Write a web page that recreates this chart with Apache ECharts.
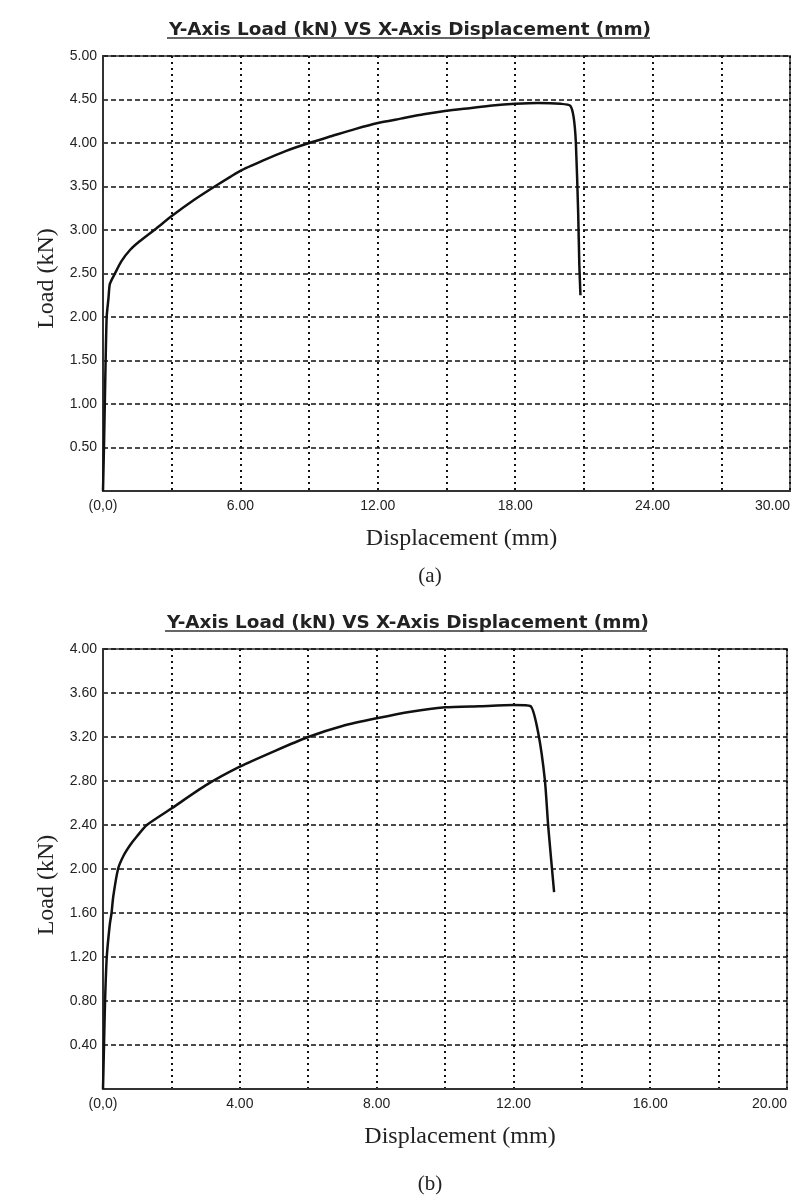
<!DOCTYPE html>
<html lang="en">

<head>
    <meta charset="UTF-8">
    <title>Load vs Displacement</title>
    <script src="https://cdn.jsdelivr.net/npm/echarts@6/dist/echarts.min.js"></script>
    <style>
        html, body { margin: 0; padding: 0; background: #fff; }
    </style>
</head>

<body>
    <div id="chart" style="width: 801px; height: 1198px;"></div>

    <script>
        // curve (a): displacement (mm) / load (kN)
        var dispA = [0, 0.05, 0.1, 0.16, 0.24, 0.3, 0.52, 0.8, 1.18, 1.6, 2.34, 3.0, 4.0, 5.0, 6.0, 7.0, 8.0, 9.0, 10.0,
            11.0, 12.0, 13.0, 14.0, 15.0, 16.0, 17.0, 18.0, 19.0, 20.0, 20.4, 20.55, 20.65, 20.75, 20.8, 20.85];
        var loadA = [0, 0.6, 1.3, 2.0, 2.22, 2.38, 2.5, 2.64, 2.77, 2.87, 3.02, 3.16, 3.35, 3.52, 3.68, 3.8, 3.91, 4.0, 4.08,
            4.16, 4.23, 4.28, 4.33, 4.37, 4.4, 4.43, 4.45, 4.46, 4.45, 4.43, 4.3, 4.0, 3.2, 2.6, 2.25];

        // curve (b)
        var dispB = [0, 0.03, 0.06, 0.11, 0.2, 0.25, 0.3, 0.44, 0.6, 0.8, 1.0, 1.28, 2.0, 3.0, 4.0, 5.0, 6.0, 7.0,
            8.0, 9.0, 10.0, 11.0, 12.0, 12.5, 12.73, 12.92, 13.02, 13.19];
        var loadB = [0, 0.4, 0.8, 1.2, 1.5, 1.6, 1.75, 2.0, 2.12, 2.22, 2.3, 2.4, 2.55, 2.76, 2.93, 3.07, 3.2, 3.3,
            3.37, 3.43, 3.47, 3.48, 3.49, 3.48, 3.23, 2.81, 2.38, 1.79];

        // axis ranges / tick labels
        var xMaxA = 30, xStepA = 3, xLabelsA = ['(0,0)', '6.00', '12.00', '18.00', '24.00', '30.00'];
        var yMaxA = 5, yStepA = 0.5;
        var xMaxB = 20, xStepB = 2, xLabelsB = ['(0,0)', '4.00', '8.00', '12.00', '16.00', '20.00'];
        var yMaxB = 4, yStepB = 0.4;

        var titleText = 'Y-Axis Load (kN) VS X-Axis Displacement (mm)';

        function pairs(xs, ys) {
            return xs.map(function (x, i) { return [x, ys[i]]; });
        }

        var chart = echarts.init(document.getElementById('chart'), null, { renderer: 'canvas' });

        var tickFont = { fontFamily: 'Liberation Sans', fontSize: 14, color: '#222' };
        var serif = 'Liberation Serif';

        function xAxisOpt(idx, max, step, labels) {
            return {
                type: 'value', gridIndex: idx, min: 0, max: max, interval: step,
                name: 'Displacement (mm)', nameLocation: 'middle', nameGap: 36,
                nameTextStyle: { fontFamily: serif, fontSize: 24, color: '#222', padding: [0, 0, 0, 30] },
                axisLine: { show: true, lineStyle: { color: '#333', width: 2 } },
                axisTick: { show: false },
                axisLabel: Object.assign({
                    margin: 8,
                    showMaxLabel: true,
                    alignMaxLabel: 'right',
                    formatter: function (v) {
                        var k = Math.round(v / step);
                        return k % 2 === 0 ? labels[k / 2] : '';
                    }
                }, tickFont),
                splitLine: { show: true, lineStyle: { color: '#111', width: 2, type: [2, 4] } }
            };
        }

        function yAxisOpt(idx, max, step, pad) {
            return {
                type: 'value', gridIndex: idx, min: 0, max: max, interval: step,
                name: 'Load (kN)', nameLocation: 'middle', nameGap: 42,
                nameTextStyle: { fontFamily: serif, fontSize: 24, color: '#222', padding: pad },
                axisLine: { show: true, lineStyle: { color: '#333', width: 2 } },
                axisTick: { show: false },
                axisLabel: Object.assign({
                    margin: 6,
                    showMinLabel: false,
                    formatter: function (v) { return v.toFixed(2); }
                }, tickFont),
                splitLine: { show: true, lineStyle: { color: '#111', width: 1.5, type: [5, 3] } }
            };
        }

        function lineSeries(idx, data) {
            return {
                type: 'line', xAxisIndex: idx, yAxisIndex: idx,
                data: data, showSymbol: false, symbol: 'none',
                smooth: 0.2,
                lineStyle: { color: '#111', width: 2.5 },
                animation: false
            };
        }

        var titleStyle = { fontFamily: 'DejaVu Sans', fontSize: 18.4, fontWeight: 'bold', color: '#222' };
        var capStyle = { fontFamily: serif, fontSize: 21, fontWeight: 'normal', color: '#222' };

        var option = {
            backgroundColor: '#fff',
            animation: false,
            title: [
                { text: titleText, left: 405, top: 16, textAlign: 'center', textStyle: titleStyle },
                { text: titleText, left: 403, top: 609, textAlign: 'center', textStyle: titleStyle },
                { text: '(a)', left: 425, top: 561, textAlign: 'center', textStyle: capStyle },
                { text: '(b)', left: 425, top: 1169, textAlign: 'center', textStyle: capStyle }
            ],
            graphic: [
                { type: 'line', shape: { x1: 167, y1: 38, x2: 650, y2: 38 }, style: { stroke: '#333', lineWidth: 1.5 } },
                { type: 'line', shape: { x1: 165, y1: 631, x2: 647, y2: 631 }, style: { stroke: '#333', lineWidth: 1.5 } }
            ],
            grid: [
                { left: 103, top: 56, width: 687, height: 435, outerBoundsMode: 'none', containLabel: false,
                  show: true, borderColor: '#666', borderWidth: 2, backgroundColor: 'transparent' },
                { left: 103, top: 649, width: 684, height: 440, outerBoundsMode: 'none', containLabel: false,
                  show: true, borderColor: '#666', borderWidth: 2, backgroundColor: 'transparent' }
            ],
            xAxis: [xAxisOpt(0, xMaxA, xStepA, xLabelsA), xAxisOpt(1, xMaxB, xStepB, xLabelsB)],
            yAxis: [yAxisOpt(0, yMaxA, yStepA, [0, 10, 0, 0]), yAxisOpt(1, yMaxB, yStepB, [0, 32, 0, 0])],
            series: [lineSeries(0, pairs(dispA, loadA)), lineSeries(1, pairs(dispB, loadB))]
        };

        chart.setOption(option);
    </script>
</body>

</html>
